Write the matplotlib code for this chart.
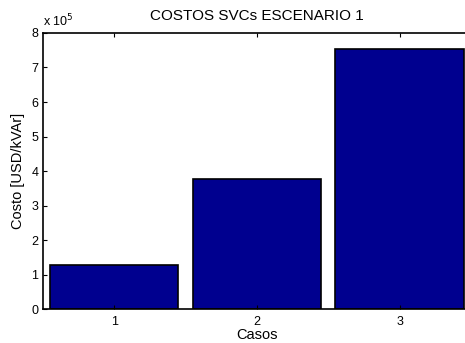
import matplotlib
matplotlib.use("Agg")
import matplotlib.pyplot as plt
from matplotlib.ticker import FuncFormatter

# data
casos = [1, 2, 3]
costos = [1.27e5, 3.76e5, 7.53e5]
yticks = [0, 1e5, 2e5, 3e5, 4e5, 5e5, 6e5, 7e5, 8e5]

plt.rcParams['font.family'] = ['Liberation Sans', 'DejaVu Sans']

fig = plt.figure(figsize=(4.65, 3.43), dpi=100)
# axes run slightly past the right edge, as in the reference
ax = fig.add_axes([0.0918, 0.098, 0.921, 0.806])

ax.bar(casos, costos, width=0.9, color='#00008F', edgecolor='black', linewidth=1.2)

ax.set_xlim(0.5, 3.5)
ax.set_ylim(0, 8e5)
ax.set_xticks(casos)
ax.set_yticks(yticks)
ax.yaxis.set_major_formatter(FuncFormatter(lambda v, p: f'{v/1e5:g}'))
ax.tick_params(direction='in', length=3, labelsize=9, top=True, pad=3)
ax.tick_params(axis='x', pad=5)
for s in ax.spines.values():
    s.set_linewidth(1.2)

ax.set_title('COSTOS SVCs ESCENARIO 1', fontsize=11, pad=9)
ax.set_xlabel('Casos', fontsize=10.5, labelpad=0)
ax.set_ylabel('Costo [USD/kVAr]', fontsize=10.5, labelpad=5)
ax.text(0.0, 1.012, 'x 10$^5$', transform=ax.transAxes, fontsize=9,
        ha='left', va='bottom')

fig.savefig('out.png', dpi=100)
